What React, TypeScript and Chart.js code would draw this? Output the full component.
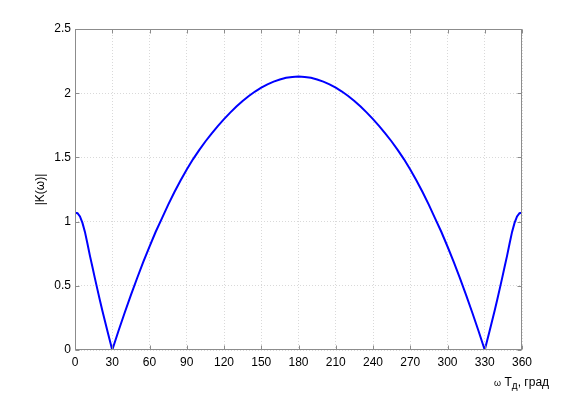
import React, { useEffect, useRef } from 'react';
import { Chart, registerables } from 'chart.js';

Chart.register(...registerables);

// ω·Tд, degrees
const omegaDeg = [
  0, 2, 4, 6, 8, 10, 12, 14, 16, 18, 20, 22, 24, 26, 28, 30,
  35, 40, 45, 50, 55, 60, 65, 70, 75, 80, 85, 90, 95, 100, 105, 110, 115, 120,
  125, 130, 135, 140, 145, 150, 155, 160, 165, 170, 175, 180,
  185, 190, 195, 200, 205, 210, 215, 220, 225, 230, 235, 240,
  245, 250, 255, 260, 265, 270, 275, 280, 285, 290, 295, 300, 305, 310, 315, 320, 325, 330,
  332, 334, 336, 338, 340, 342, 344, 346, 348, 350, 352, 354, 356, 358, 360,
];

// |K(ω)|
const kMag = [
  1.07, 1.065, 1.04, 0.99, 0.92, 0.83, 0.735, 0.648, 0.56, 0.474, 0.39, 0.308, 0.229, 0.151, 0.075, 0.0,
  0.148, 0.29, 0.427, 0.559, 0.686, 0.806, 0.921, 1.025, 1.13, 1.228, 1.32, 1.406, 1.485, 1.557, 1.624, 1.686, 1.744, 1.798,
  1.849, 1.896, 1.939, 1.978, 2.013, 2.043, 2.069, 2.09, 2.107, 2.12, 2.127, 2.13,
  2.127, 2.12, 2.107, 2.09, 2.069, 2.043, 2.013, 1.978, 1.939, 1.896, 1.849, 1.798,
  1.744, 1.686, 1.624, 1.557, 1.485, 1.406, 1.32, 1.228, 1.13, 1.025, 0.921, 0.806, 0.686, 0.559, 0.427, 0.29, 0.148, 0.0,
  0.075, 0.151, 0.229, 0.308, 0.39, 0.474, 0.56, 0.648, 0.735, 0.83, 0.92, 0.99, 1.04, 1.065, 1.07,
];

const xTicks = [0, 30, 60, 90, 120, 150, 180, 210, 240, 270, 300, 330, 360];
const yTicks = [0, 0.5, 1, 1.5, 2, 2.5];
const yTickLabels = ['0', '0.5', '1', '1.5', '2', '2.5'];

const FONT = "'Liberation Sans', Arial, Helvetica, sans-serif";

const framePlugin = {
  id: 'matlabFrame',
  afterDatasetsDraw(chart: any) {
    const { ctx, chartArea, scales } = chart;
    const { left, right, top, bottom } = chartArea;
    ctx.save();
    ctx.strokeStyle = '#8c8c8c';
    ctx.lineWidth = 1;
    const L = Math.round(left) + 0.5;
    const R = Math.round(right) - 0.5;
    const T = Math.round(top) + 0.5;
    const B = Math.round(bottom) - 0.5;
    ctx.strokeRect(L, T, R - L, B - T);
    const tl = 4;
    ctx.beginPath();
    xTicks.forEach((v) => {
      const x = Math.round(scales.x.getPixelForValue(v)) + 0.5;
      ctx.moveTo(x, B);
      ctx.lineTo(x, B - tl);
      ctx.moveTo(x, T);
      ctx.lineTo(x, T + tl);
    });
    yTicks.forEach((v) => {
      const y = Math.round(scales.y.getPixelForValue(v)) + 0.5;
      ctx.moveTo(L, y);
      ctx.lineTo(L + tl, y);
      ctx.moveTo(R, y);
      ctx.lineTo(R - tl, y);
    });
    ctx.stroke();
    ctx.restore();
  },
  afterDraw(chart: any) {
    const { ctx, chartArea } = chart;
    ctx.save();
    ctx.fillStyle = '#000';
    // y-axis title
    ctx.translate(44, (chartArea.top + chartArea.bottom) / 2);
    ctx.rotate(-Math.PI / 2);
    ctx.textAlign = 'center';
    ctx.textBaseline = 'alphabetic';
    ctx.font = `12px ${FONT}`;
    ctx.fillText('|K(ω)|', 0, 0);
    ctx.restore();

    // x-axis title: ω Tд, град
    ctx.save();
    ctx.fillStyle = '#000';
    ctx.textAlign = 'left';
    ctx.textBaseline = 'alphabetic';
    let x = 494;
    const base = 386;
    ctx.font = `9px ${FONT}`;
    ctx.fillText('ω', x, base);
    x += ctx.measureText('ω ').width + 1;
    ctx.font = `12px ${FONT}`;
    ctx.fillText('T', x, base);
    x += ctx.measureText('T').width;
    ctx.font = `10px ${FONT}`;
    ctx.fillText('д', x, base + 3);
    x += ctx.measureText('д').width;
    ctx.font = `12px ${FONT}`;
    ctx.fillText(', град', x, base);
    ctx.restore();
  },
};

export default function App() {
  const canvasRef = useRef<HTMLCanvasElement | null>(null);

  useEffect(() => {
    if (!canvasRef.current) return;
    const chart = new Chart(canvasRef.current, {
      type: 'line',
      data: {
        datasets: [
          {
            data: omegaDeg.map((d, i) => ({ x: d, y: kMag[i] })),
            borderColor: '#0000ff',
            borderWidth: 2,
            pointRadius: 0,
            fill: false,
            tension: 0,
          },
        ],
      },
      options: {
        animation: false,
        responsive: true,
        maintainAspectRatio: false,
        layout: { padding: { left: 0, top: 29, right: 55, bottom: 0 } },
        plugins: {
          legend: { display: false },
          tooltip: { enabled: false },
          title: { display: false },
        },
        scales: {
          x: {
            type: 'linear',
            min: 0,
            max: 360,
            afterBuildTicks: (s: any) => {
              s.ticks = xTicks.map((v) => ({ value: v }));
            },
            afterFit: (s: any) => {
              s.height = 44;
            },
            ticks: {
              autoSkip: false,
              maxRotation: 0,
              padding: 5,
              color: '#000',
              font: { family: FONT, size: 12 },
              callback: (v: any) => String(v),
            },
            grid: { color: '#d9d9d9', drawTicks: false, lineWidth: 1 },
            border: { display: false, dash: [1, 2] },
          },
          y: {
            type: 'linear',
            min: 0,
            max: 2.5,
            afterBuildTicks: (s: any) => {
              s.ticks = yTicks.map((v) => ({ value: v }));
            },
            afterFit: (s: any) => {
              s.width = 75;
            },
            ticks: {
              autoSkip: false,
              padding: 4,
              color: '#000',
              font: { family: FONT, size: 12 },
              callback: (v: any) => {
                const i = yTicks.indexOf(Number(v));
                return i >= 0 ? yTickLabels[i] : '';
              },
            },
            grid: { color: '#d9d9d9', drawTicks: false, lineWidth: 1 },
            border: { display: false, dash: [1, 2] },
          },
        },
      },
      plugins: [framePlugin],
    });
    return () => chart.destroy();
  }, []);

  return (
    <div style={{ position: 'fixed', left: 0, top: 0, width: 577, height: 394, background: '#fff' }}>
      <canvas ref={canvasRef} />
    </div>
  );
}
